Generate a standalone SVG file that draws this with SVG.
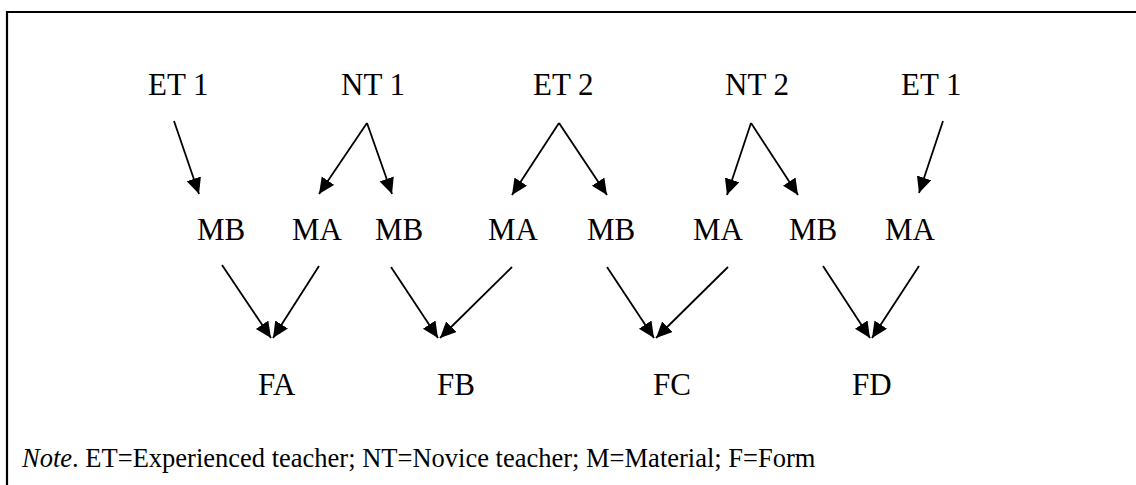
<svg xmlns="http://www.w3.org/2000/svg" width="1136" height="485" viewBox="0 0 1136 485">
  <style>
    .lbl { font-family: "Liberation Serif", "Times New Roman", Times, serif; font-size: 31px; fill: #000; }
    .note { font-family: "Liberation Serif", "Times New Roman", Times, serif; font-size: 26.5px; fill: #000; }
    .edge { stroke: #000; stroke-width: 1.8; fill: none; marker-end: url(#head); }
    .frame { stroke: #000; stroke-width: 2.2; fill: none; }
  </style>
  <defs>
    <marker id="head" markerUnits="userSpaceOnUse" markerWidth="18" markerHeight="16" refX="16" refY="7.5" orient="auto">
      <path d="M0,0 L16,7.5 L0,15 z" fill="#000"/>
    </marker>
  </defs>
  <rect width="1136" height="485" fill="#fff"/>
  <!-- frame: top and left edges -->
  <path class="frame" d="M7,485 V12 H1136"/>

  <!-- teachers -->
  <g id="et1a"><text class="lbl" x="148" y="95">ET 1</text></g>
  <g id="nt1"><text class="lbl" x="341" y="95">NT 1</text></g>
  <g id="et2"><text class="lbl" x="533" y="95">ET 2</text></g>
  <g id="nt2"><text class="lbl" x="725" y="95">NT 2</text></g>
  <g id="et1b"><text class="lbl" x="901" y="95">ET 1</text></g>

  <!-- materials -->
  <g id="m1"><text class="lbl" x="197" y="240">MB</text></g>
  <g id="m2"><text class="lbl" x="292" y="240">MA</text></g>
  <g id="m3"><text class="lbl" x="375" y="240">MB</text></g>
  <g id="m4"><text class="lbl" x="488" y="240">MA</text></g>
  <g id="m5"><text class="lbl" x="587" y="240">MB</text></g>
  <g id="m6"><text class="lbl" x="693" y="240">MA</text></g>
  <g id="m7"><text class="lbl" x="789" y="240">MB</text></g>
  <g id="m8"><text class="lbl" x="885" y="240">MA</text></g>

  <!-- forms -->
  <g id="fa"><text class="lbl" x="258" y="395">FA</text></g>
  <g id="fb"><text class="lbl" x="437" y="395">FB</text></g>
  <g id="fc"><text class="lbl" x="653" y="395">FC</text></g>
  <g id="fd"><text class="lbl" x="852" y="395">FD</text></g>

  <g id="connectors">
    <!-- teacher to material -->
    <line class="edge" x1="174" y1="121" x2="199" y2="194"/>
    <line class="edge" x1="367" y1="123" x2="319" y2="194"/>
    <line class="edge" x1="367" y1="123" x2="392" y2="194"/>
    <line class="edge" x1="559" y1="123" x2="512" y2="195"/>
    <line class="edge" x1="559" y1="123" x2="607" y2="195"/>
    <line class="edge" x1="751" y1="123" x2="727" y2="195"/>
    <line class="edge" x1="751" y1="123" x2="798" y2="195"/>
    <line class="edge" x1="943" y1="121" x2="919" y2="193"/>
    <!-- material to form -->
    <line class="edge" x1="222" y1="265" x2="271" y2="338"/>
    <line class="edge" x1="319" y1="266" x2="273" y2="338"/>
    <line class="edge" x1="391" y1="267" x2="438" y2="338"/>
    <line class="edge" x1="512" y1="267" x2="440" y2="338"/>
    <line class="edge" x1="607" y1="267" x2="654" y2="338"/>
    <line class="edge" x1="728" y1="267" x2="656" y2="338"/>
    <line class="edge" x1="823" y1="266" x2="870" y2="338"/>
    <line class="edge" x1="919" y1="266" x2="872" y2="338"/>
  </g>

  <text class="note" x="22" y="467"><tspan font-style="italic">Note</tspan>. ET=Experienced teacher; NT=Novice teacher; M=Material; F=Form</text>
</svg>
